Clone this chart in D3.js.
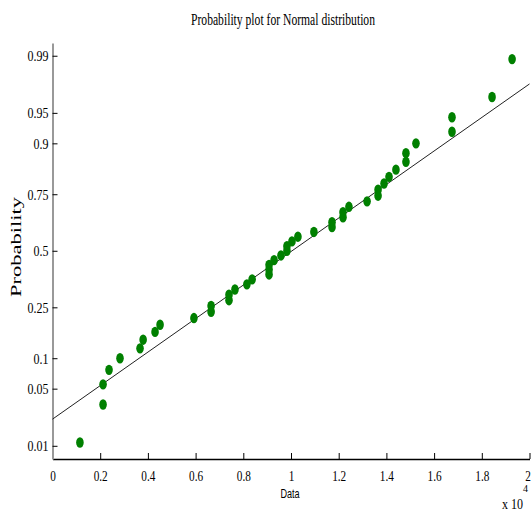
<!DOCTYPE html>
<html>
<head>
<meta charset="utf-8">
<script src="https://cdn.jsdelivr.net/npm/d3@7"></script>
<style>
  body { margin: 0; background: #fff; }
  svg { display: block; }
</style>
</head>
<body>
<div id="graph-container"></div>
<script>
// Sorted sample values (units of 1)
const sampleValues = [
  1150, 2120, 2120, 2370, 2830, 3670, 3800, 4300, 4510, 5930,
  6650, 6650, 7400, 7400, 7650, 8150, 8370, 9080, 9080, 9080,
  9290, 9580, 9830, 9830, 10040, 10290, 10960, 11720, 11720, 12180,
  12180, 12430, 13190, 13650, 13650, 13900, 14110, 14400, 14820, 14820,
  15240, 16750, 16750, 18430, 19270
];

// Reference line end points (data value, probability)
const lineX = [0, 20000];
const lineP = [0.0223, 0.9767];

// Axis ticks
const probTicks = [0.01, 0.05, 0.1, 0.25, 0.5, 0.75, 0.9, 0.95, 0.99];
const probTickLabels = ["0.01", "0.05", "0.1", "0.25", "0.5", "0.75", "0.9", "0.95", "0.99"];
const xTicks = [0, 2000, 4000, 6000, 8000, 10000, 12000, 14000, 16000, 18000, 20000];
const xLimits = [0, 20000];
const probLimits = [0.0065, 0.9934];

// Inverse normal CDF (Acklam)
function probit(p) {
  const a = [-3.969683028665376e+01, 2.209460984245205e+02, -2.759285104469687e+02,
             1.383577518672690e+02, -3.066479806614716e+01, 2.506628277459239e+00];
  const b = [-5.447609879822406e+01, 1.615858368580409e+02, -1.556989798598866e+02,
             6.680131188771972e+01, -1.328068155288572e+01];
  const c = [-7.784894002430293e-03, -3.223964580411365e-01, -2.400758277161838e+00,
             -2.549732539343734e+00, 4.374664141464968e+00, 2.938163982698783e+00];
  const d = [7.784695709041462e-03, 3.224671290700398e-01, 2.445134137142996e+00,
             3.754408661907416e+00];
  const pl = 0.02425;
  let q, r;
  if (p < pl) {
    q = Math.sqrt(-2 * Math.log(p));
    return (((((c[0]*q+c[1])*q+c[2])*q+c[3])*q+c[4])*q+c[5]) /
           ((((d[0]*q+d[1])*q+d[2])*q+d[3])*q+1);
  }
  if (p <= 1 - pl) {
    q = p - 0.5; r = q * q;
    return (((((a[0]*r+a[1])*r+a[2])*r+a[3])*r+a[4])*r+a[5])*q /
           (((((b[0]*r+b[1])*r+b[2])*r+b[3])*r+b[4])*r+1);
  }
  q = Math.sqrt(-2 * Math.log(1 - p));
  return -(((((c[0]*q+c[1])*q+c[2])*q+c[3])*q+c[4])*q+c[5]) /
          ((((d[0]*q+d[1])*q+d[2])*q+d[3])*q+1);
}

const W = 532, H = 514;
const plot = { left: 52.5, right: 529.5, top: 43, bottom: 459 };

const x = d3.scaleLinear().domain(xLimits).range([plot.left, plot.right]);
const y = d3.scaleLinear().domain(probLimits.map(probit)).range([plot.bottom, plot.top]);

const svg = d3.select("#graph-container")
  .append("svg")
    .attr("width", W)
    .attr("height", H);

// squeeze text horizontally like the original rendering
function squeeze(sel, f) {
  sel.each(function () {
    const w = this.getComputedTextLength();
    d3.select(this).attr("textLength", w * f).attr("lengthAdjust", "spacingAndGlyphs");
  });
}

// Title
svg.append("text")
  .attr("x", 283).attr("y", 25)
  .attr("text-anchor", "middle")
  .attr("font-family", "Liberation Serif")
  .attr("font-size", 17)
  .text("Probability plot for Normal distribution")
  .attr("textLength", 184).attr("lengthAdjust", "spacingAndGlyphs");

// x axis
const gx = svg.append("g")
  .attr("transform", `translate(0,${plot.bottom})`)
  .call(d3.axisBottom(x)
    .tickValues(xTicks)
    .tickSizeInner(-6)
    .tickSizeOuter(0)
    .tickPadding(11)
    .tickFormat(d => String(+(d / 1e4).toFixed(1))));
gx.select(".domain").attr("stroke", "#000").attr("stroke-width", 1.5);
gx.selectAll(".tick line").attr("stroke", "#000");
gx.selectAll(".tick text")
  .attr("font-family", "Liberation Serif")
  .attr("font-size", 15)
  .attr("fill", "#000")
  .call(squeeze, 0.75);
// keep the last label inside the window
gx.selectAll(".tick text").filter(d => d === xLimits[1]).attr("x", -2);

// y axis (normal probability scale)
const gy = svg.append("g")
  .attr("transform", `translate(${plot.left},0)`)
  .call(d3.axisLeft(y)
    .tickValues(probTicks.map(probit))
    .tickSizeInner(-5)
    .tickSizeOuter(0)
    .tickPadding(4)
    .tickFormat((d, i) => probTickLabels[i]));
gy.select(".domain").attr("stroke", "#999").attr("stroke-width", 2);
gy.selectAll(".tick line").attr("stroke", "#000");
gy.selectAll(".tick text")
  .attr("font-family", "Liberation Serif")
  .attr("font-size", 15)
  .attr("fill", "#000")
  .call(squeeze, 0.8);

// Axis labels
svg.append("text")
  .attr("x", 290).attr("y", 498)
  .attr("text-anchor", "middle")
  .attr("font-family", "Liberation Sans")
  .attr("font-size", 13)
  .text("Data")
  .call(squeeze, 0.7);

svg.append("text")
  .attr("transform", "translate(21,247) rotate(-90)")
  .attr("text-anchor", "middle")
  .attr("font-family", "Liberation Serif")
  .attr("font-size", 15)
  .text("Probability")
  .attr("textLength", 100).attr("lengthAdjust", "spacingAndGlyphs");

// exponent note
svg.append("text")
  .attr("x", 502).attr("y", 509)
  .attr("font-family", "Liberation Serif")
  .attr("font-size", 15)
  .text("x 10")
  .call(squeeze, 0.8);
svg.append("text")
  .attr("x", 523).attr("y", 492)
  .attr("font-family", "Liberation Serif")
  .attr("font-size", 10)
  .text("4");

// Reference line
svg.append("path")
  .datum(lineX.map((v, i) => ({ x: v, p: lineP[i] })))
  .attr("fill", "none")
  .attr("stroke", "#222")
  .attr("stroke-width", 1)
  .attr("d", d3.line().x(d => x(d.x)).y(d => y(probit(d.p))));

// Data points at normplot plotting positions (i - 0.5) / n
const n = sampleValues.length;
svg.append("g")
  .selectAll("ellipse")
  .data(sampleValues)
  .join("ellipse")
    .attr("cx", d => x(d))
    .attr("cy", (d, i) => y(probit((i + 0.5) / n)))
    .attr("rx", 3.8)
    .attr("ry", 5.2)
    .attr("fill", "#008000");
</script>
</body>
</html>
